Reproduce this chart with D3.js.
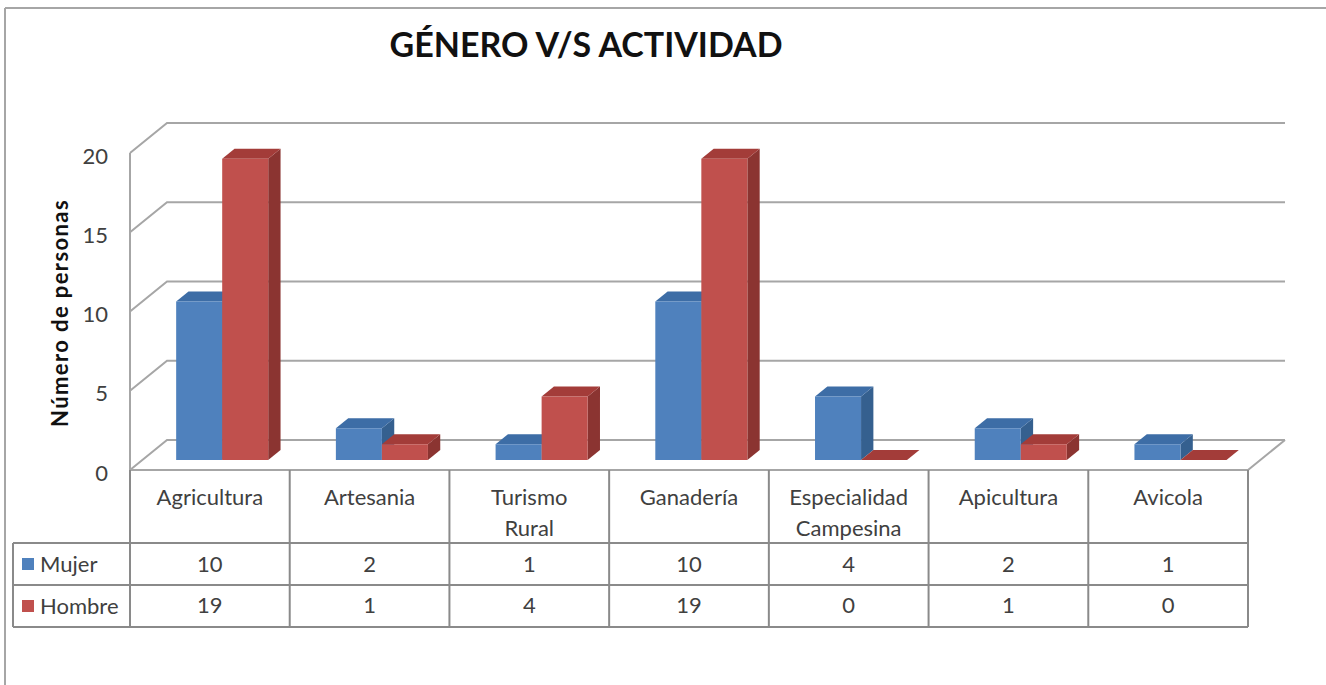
<!DOCTYPE html>
<html>
<head>
<meta charset="utf-8">
<script src="https://cdnjs.cloudflare.com/ajax/libs/d3/7.8.5/d3.min.js"></script>
<style>
  html, body { margin: 0; padding: 0; background: #fff; }
  svg { display: block; font-family: Lato, 'Open Sans', sans-serif; }
</style>
</head>
<body>
<svg id="chart" width="1326" height="685"></svg>
<script>
const categories = ['Agricultura', 'Artesania', 'Turismo Rural', 'Ganadería', 'Especialidad Campesina', 'Apicultura', 'Avicola'];
const series = ['Mujer', 'Hombre'];
const mujer = [10, 2, 1, 10, 4, 2, 1];
const hombre = [19, 1, 4, 19, 0, 1, 0];
const yTicks = [0, 5, 10, 15, 20];

const colors = {
  Mujer: { front: '#4f81bd', side: '#35608f', top: '#3d6da6' },
  Hombre: { front: '#c0504d', side: '#8b3431', top: '#a33c39' }
};

const svg = d3.select('#chart');

// plot box (front plane) and depth of the 3d floor
const left = 130, right = 1248, floorY = 470, topY = 153;
const depthX = 37, depthY = -30;

const x = d3.scaleBand().domain(categories).range([left, right]);
const xs = d3.scaleBand().domain(series).range([0, x.bandwidth()]).paddingOuter(0.735);
const y = d3.scaleLinear().domain([0, 20]).range([floorY, topY]);

// project a point at depth z (0 = front, 1 = back)
const P = (px, py, z) => [px + depthX * z, py + depthY * z];
const pts = arr => arr.map(p => p.join(',')).join(' ');

// outer frame
svg.append('line').attr('x1', 5).attr('y1', 8).attr('x2', 1326).attr('y2', 8)
  .attr('stroke', '#a6a6a6').attr('stroke-width', 2);
svg.append('line').attr('x1', 5).attr('y1', 8).attr('x2', 5).attr('y2', 685)
  .attr('stroke', '#a6a6a6').attr('stroke-width', 2);

// title
svg.append('text')
  .attr('x', 586).attr('y', 57)
  .attr('text-anchor', 'middle')
  .attr('font-size', 34).attr('font-weight', 'bold')
  .attr('fill', '#111')
  .text('GÉNERO V/S ACTIVIDAD');

// walls and gridlines
const grid = svg.append('g').attr('stroke', '#a6a6a6').attr('stroke-width', 2).attr('fill', 'none');
yTicks.forEach(v => {
  const a = P(left, y(v), 0), b = P(left, y(v), 1), c = P(right, y(v), 1);
  grid.append('polyline').attr('points', pts([a, b, c]));
});
grid.append('line').attr('x1', left).attr('y1', y(0)).attr('x2', left).attr('y2', y(20));
// floor
grid.append('polyline').attr('points', pts([P(left, y(0), 0), P(right, y(0), 0), P(right, y(0), 1)]));

// y axis labels
const yAxis = d3.axisLeft(y).tickValues(yTicks).tickSize(0).tickPadding(22);
const ya = svg.append('g').attr('transform', `translate(${left},3)`).call(yAxis);
ya.select('.domain').remove();
ya.selectAll('text').attr('font-size', 22).attr('fill', '#404040').attr('font-family', 'Lato, sans-serif');

// axis title
svg.append('text')
  .attr('transform', 'translate(68,313) rotate(-90)')
  .attr('text-anchor', 'middle')
  .attr('font-size', 22).attr('font-weight', 'bold').attr('fill', '#111')
  .attr('letter-spacing', 1.4)
  .text('Número de personas');

// 3d bars
const zf = 1 / 3, zb = 2 / 3;
const bars = [];
categories.forEach((c, i) => {
  bars.push({ cat: c, s: 'Mujer', v: mujer[i] });
  bars.push({ cat: c, s: 'Hombre', v: hombre[i] });
});
const bg = svg.append('g').selectAll('g').data(bars).join('g');
bg.each(function (d) {
  const g = d3.select(this);
  const x0 = x(d.cat) + xs(d.s), x1 = x0 + xs.bandwidth();
  const y0 = y(0), y1 = y(d.v);
  const col = colors[d.s];
  // side face
  g.append('polygon').attr('fill', col.side)
    .attr('points', pts([P(x1, y0, zf), P(x1, y0, zb), P(x1, y1, zb), P(x1, y1, zf)]));
  // top face
  g.append('polygon').attr('fill', col.top)
    .attr('points', pts([P(x0, y1, zf), P(x1, y1, zf), P(x1, y1, zb), P(x0, y1, zb)]));
  // front face
  g.append('polygon').attr('fill', col.front)
    .attr('points', pts([P(x0, y0, zf), P(x1, y0, zf), P(x1, y1, zf), P(x0, y1, zf)]));
});

// data table
const rowTop = 470, row1 = 543, row2 = 585, rowBot = 627, legLeft = 13;
const tbl = svg.append('g').attr('stroke', '#8a8a8a').attr('stroke-width', 2);
categories.concat(['end']).forEach((c, i) => {
  const xx = i < categories.length ? x(c) : right;
  tbl.append('line').attr('x1', xx).attr('x2', xx).attr('y1', rowTop).attr('y2', rowBot);
});
[row1, row2, rowBot].forEach(yy => {
  tbl.append('line').attr('x1', legLeft).attr('x2', right).attr('y1', yy).attr('y2', yy);
});
tbl.append('line').attr('x1', legLeft).attr('x2', legLeft).attr('y1', row1).attr('y2', rowBot);

const txt = svg.append('g').attr('fill', '#404040').attr('font-size', 22).attr('text-anchor', 'middle');
categories.forEach(c => {
  const words = c.split(' ');
  words.forEach((w, j) => {
    txt.append('text').attr('x', x(c) + x.bandwidth() / 2).attr('y', 505 + j * 31).text(w);
  });
});
[mujer, hombre].forEach((vals, r) => {
  const cy = r === 0 ? 572 : 613;
  vals.forEach((v, i) => {
    txt.append('text').attr('x', x(categories[i]) + x.bandwidth() / 2).attr('y', cy).text(v);
  });
});

// legend keys in the table
series.forEach((s, r) => {
  const cy = r === 0 ? 564 : 606;
  svg.append('rect').attr('x', 22).attr('y', cy - 6).attr('width', 12).attr('height', 12)
    .attr('fill', colors[s].front);
  svg.append('text').attr('x', 40).attr('y', cy + 8).attr('font-size', 22).attr('fill', '#404040').text(s);
});
</script>
</body>
</html>
